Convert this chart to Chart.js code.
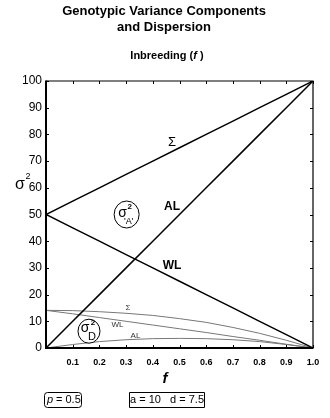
<!DOCTYPE html>
<html>
<head>
<meta charset="utf-8">
<script src="https://cdn.jsdelivr.net/npm/chart.js@4"></script>
<style>
  html, body { margin: 0; padding: 0; background: #fff; }
  #wrap { width: 330px; height: 418px; }
</style>
</head>
<body>
<div id="wrap"><canvas id="c" width="330" height="418"></canvas></div>
<script>
// Inbreeding coefficient f
const fValues = [0, 0.1, 0.2, 0.3, 0.4, 0.5, 0.6, 0.7, 0.8, 0.9, 1.0];

// Additive variance components (σ²A')
const sumAdditive = [50, 55, 60, 65, 70, 75, 80, 85, 90, 95, 100];
const alAdditive  = [0, 10, 20, 30, 40, 50, 60, 70, 80, 90, 100];
const wlAdditive  = [50, 45, 40, 35, 30, 25, 20, 15, 10, 5, 0];

// Dominance variance components (σ²D)
const sumDominance = [14.1, 14.0, 13.6, 13.0, 12.2, 11.0, 9.6, 7.7, 5.5, 2.9, 0];
const wlDominance  = [14.1, 12.8, 11.4, 10.0, 8.6, 7.2, 5.8, 4.3, 2.9, 1.4, 0];
const alDominance  = [0, 1.3, 2.4, 3.1, 3.5, 3.6, 3.5, 3.1, 2.4, 1.3, 0];

// Axis ticks
const xTicks = [0.1, 0.2, 0.3, 0.4, 0.5, 0.6, 0.7, 0.8, 0.9, 1.0];
const yTicks = [0, 10, 20, 30, 40, 50, 60, 70, 80, 90, 100];

const FONT = '"Liberation Sans", Arial, Helvetica, sans-serif';

function pts(ys) { return fValues.map((f, i) => ({ x: f, y: ys[i] })); }

function line(label, ys, color, width) {
  return { label, data: pts(ys), borderColor: color, borderWidth: width,
           pointRadius: 0, fill: false, tension: 0 };
}

// Annotations: labels, circled symbols, frame, titles
const decor = {
  id: 'decor',
  afterDatasetsDraw(chart) {
    const { ctx, scales: { x, y } } = chart;
    const px = v => x.getPixelForValue(v), py = v => y.getPixelForValue(v);
    ctx.save();
    // circled σ² symbols
    const ellipse = (cx, cy, rx, ry) => {
      ctx.beginPath(); ctx.ellipse(cx, cy, rx, ry, 0, 0, Math.PI * 2);
      ctx.fillStyle = '#fff'; ctx.fill();
      ctx.strokeStyle = '#000'; ctx.lineWidth = 1; ctx.stroke();
    };
    let cx = px(0.302), cy = py(50);
    ellipse(cx, cy, 12.5, 13.5);
    ctx.fillStyle = '#000'; ctx.textAlign = 'center'; ctx.textBaseline = 'middle';
    ctx.font = '14px ' + FONT; ctx.fillText('σ', cx - 4, cy - 1);
    ctx.font = 'bold 8px ' + FONT; ctx.fillText('2', cx + 3, cy - 8);
    ctx.font = '9px ' + FONT; ctx.fillText("'A'", cx + 2, cy + 7);

    cx = px(0.161); cy = py(6.3);
    ellipse(cx, cy, 11, 12);
    ctx.fillStyle = '#000';
    ctx.font = '14px ' + FONT; ctx.fillText('σ', cx - 4, cy - 3);
    ctx.font = 'bold 8px ' + FONT; ctx.fillText('2', cx + 4, cy - 8);
    ctx.font = '11px ' + FONT; ctx.fillText('D', cx + 3, cy + 6);

    // additive line labels
    ctx.font = '13px ' + FONT; ctx.fillText('Σ', px(0.472), py(77));
    ctx.font = 'bold 12px ' + FONT;
    ctx.fillText('AL', px(0.472), py(52.8));
    ctx.fillText('WL', px(0.472), py(30.7));

    // dominance line labels
    ctx.fillStyle = '#333';
    ctx.font = '8px ' + FONT;
    ctx.fillText('Σ', px(0.307), py(15.2));
    ctx.fillText('WL', px(0.268), py(8.6));
    ctx.fillText('AL', px(0.335), py(4.6));
    ctx.restore();
  },
  afterDraw(chart) {
    const { ctx, chartArea: a, scales: { x, y } } = chart;
    ctx.save();
    // frame: heavy left/bottom axes, light top/right
    ctx.strokeStyle = '#000';
    ctx.lineWidth = 1.2;
    ctx.beginPath();
    ctx.moveTo(a.left, a.top); ctx.lineTo(a.right, a.top); ctx.lineTo(a.right, a.bottom);
    ctx.stroke();
    ctx.lineWidth = 2;
    ctx.beginPath();
    ctx.moveTo(a.left, a.top - 0.5); ctx.lineTo(a.left, a.bottom); ctx.lineTo(a.right + 0.5, a.bottom);
    ctx.stroke();
    // inward tick marks on all four sides
    ctx.lineWidth = 1;
    ctx.beginPath();
    xTicks.forEach(v => {
      const X = Math.round(x.getPixelForValue(v)) + 0.5;
      ctx.moveTo(X, a.bottom); ctx.lineTo(X, a.bottom - 3);
      ctx.moveTo(X, a.top); ctx.lineTo(X, a.top + 3);
    });
    yTicks.forEach(v => {
      const Y = Math.round(y.getPixelForValue(v)) + 0.5;
      ctx.moveTo(a.left, Y); ctx.lineTo(a.left + 3, Y);
      ctx.moveTo(a.right, Y); ctx.lineTo(a.right - 3, Y);
    });
    ctx.stroke();

    // titles
    ctx.fillStyle = '#000';
    ctx.textAlign = 'center'; ctx.textBaseline = 'middle';
    ctx.font = 'bold 13px ' + FONT;
    ctx.fillText('Genotypic Variance Components', 164, 11);
    ctx.fillText('and Dispersion', 164, 27);
    ctx.font = 'bold 11px ' + FONT;
    const s1 = 'Inbreeding (', s2 = 'f', s3 = ' )';
    const w1 = ctx.measureText(s1).width, w3 = ctx.measureText(s3).width;
    ctx.font = 'bold italic 11px ' + FONT;
    const w2 = ctx.measureText(s2).width;
    let sx = 167 - (w1 + w2 + w3) / 2;
    ctx.textAlign = 'left';
    ctx.font = 'bold 11px ' + FONT; ctx.fillText(s1, sx, 56);
    ctx.font = 'bold italic 11px ' + FONT; ctx.fillText(s2, sx + w1, 56);
    ctx.font = 'bold 11px ' + FONT; ctx.fillText(s3, sx + w1 + w2, 56);

    // axis titles
    ctx.textAlign = 'center';
    ctx.font = '16px ' + FONT; ctx.fillText('σ', 20, 185);
    ctx.font = '9px ' + FONT; ctx.fillText('2', 28, 177);
    ctx.font = 'bold italic 15px ' + FONT; ctx.fillText('f', 165, 379);

    // parameter boxes
    ctx.lineWidth = 1;
    ctx.beginPath();
    ctx.roundRect(44.5, 392.5, 37, 15, 3);
    ctx.stroke();
    ctx.beginPath();
    ctx.rect(129.5, 392.5, 75, 15);
    ctx.stroke();
    ctx.textAlign = 'left';
    ctx.font = 'italic 11px ' + FONT; ctx.fillText('p', 47, 400);
    ctx.font = '11px ' + FONT; ctx.fillText('= 0.5', 56, 400);
    ctx.textAlign = 'center';
    ctx.fillText('a = 10   d = 7.5', 167, 400);
    ctx.restore();
  }
};

new Chart(document.getElementById('c'), {
  type: 'line',
  data: {
    datasets: [
      line('Σ additive', sumAdditive, '#000', 1.5),
      line('AL additive', alAdditive, '#000', 1.5),
      line('WL additive', wlAdditive, '#000', 1.5),
      line('Σ dominance', sumDominance, '#777', 1),
      line('WL dominance', wlDominance, '#777', 1),
      line('AL dominance', alDominance, '#777', 1)
    ]
  },
  options: {
    responsive: false,
    animation: false,
    layout: { padding: { left: 10, right: 17, top: 81, bottom: 48 } },
    plugins: { legend: { display: false }, tooltip: { enabled: false } },
    scales: {
      x: {
        type: 'linear', min: 0, max: 1,
        afterFit(s) { s.height = 22; },
        afterBuildTicks(s) { s.ticks = xTicks.map(v => ({ value: v })); },
        grid: { display: false, drawTicks: false },
        border: { display: false },
        ticks: { padding: 9, color: '#000', font: { family: FONT, size: 9, weight: 'bold' },
                 maxRotation: 0, autoSkip: false,
                 callback: v => Number(v).toFixed(1) }
      },
      y: {
        min: 0, max: 100,
        afterFit(s) { s.width = 36; },
        afterBuildTicks(s) { s.ticks = yTicks.map(v => ({ value: v })); },
        grid: { display: false, drawTicks: false },
        border: { display: false },
        ticks: { padding: 4, color: '#000', font: { family: FONT, size: 12 },
                 autoSkip: false, callback: v => String(v) }
      }
    }
  },
  plugins: [decor]
});
</script>
</body>
</html>
